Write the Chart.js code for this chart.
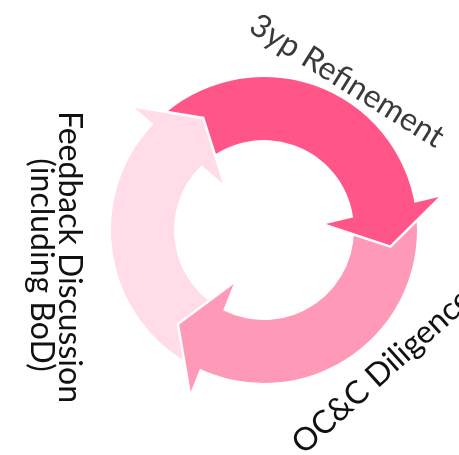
<!DOCTYPE html>
<html>
<head>
<meta charset="utf-8">
<script src="https://cdn.jsdelivr.net/npm/chart.js@4.4.1/dist/chart.umd.min.js"></script>
<style>
  html, body { margin: 0; padding: 0; background: #ffffff; }
  canvas { display: block; }
</style>
</head>
<body>
<canvas id="c" width="459" height="455"></canvas>
<script>
// ---- data ----
const categories = ['3yp Refinement', 'OC&C Diligence', 'Feedback Discussion (including BoD)'];
const labelLines = [['3yp Refinement'], ['OC&C Diligence'], ['Feedback Discussion', '(including BoD)']];
const values = [126, 125, 109];   // arc span of each step (degrees of the cycle)
const colors = ['#FF5589', '#FF99B8', '#FFDCE7'];
const textColors = ['#3a3a3a', '#111111', '#111111'];

// ---- arrowheads drawn from each arc element's own geometry ----
const arrowHeads = {
  id: 'arrowHeads',
  afterDatasetsDraw(chart) {
    const ctx = chart.ctx;
    const meta = chart.getDatasetMeta(0);
    const deg = Math.PI / 180;
    meta.data.forEach((arc, i) => {
      const p = arc.getProps(['x', 'y', 'endAngle', 'innerRadius', 'outerRadius'], true);
      const w = p.outerRadius - p.innerRadius;
      const mid = (p.outerRadius + p.innerRadius) / 2;
      const pt = (a, r) => [p.x + r * Math.cos(a), p.y + r * Math.sin(a)];
      const ow = pt(p.endAngle - 2.7 * deg, p.outerRadius + w * 0.43);
      const iw = pt(p.endAngle + 2.7 * deg, p.innerRadius - w * 0.48);
      const tip = pt(p.endAngle + 15.5 * deg, mid + 6);
      ctx.save();
      ctx.beginPath();
      ctx.moveTo(ow[0], ow[1]);
      ctx.lineTo(tip[0], tip[1]);
      ctx.lineTo(iw[0], iw[1]);
      ctx.closePath();
      ctx.fillStyle = colors[i];
      ctx.fill();
      ctx.beginPath();
      ctx.moveTo(ow[0], ow[1]);
      ctx.lineTo(tip[0], tip[1]);
      ctx.lineTo(iw[0], iw[1]);
      ctx.strokeStyle = '#ffffff';
      ctx.lineWidth = 2.5;
      ctx.lineJoin = 'miter';
      ctx.stroke();
      ctx.restore();
    });
  }
};

// ---- rotated step labels ----
const stepLabels = {
  id: 'stepLabels',
  afterDraw(chart) {
    const ctx = chart.ctx;
    const meta = chart.getDatasetMeta(0);
    const cx = meta.data[0].x, cy = meta.data[0].y;
    const layout = [
      { dx: 83, dy: -149, rot: 32, baseline: 'middle', lh: 0 },
      { dx: 118, dy: 141, rot: -42, baseline: 'middle', lh: 0 },
      { dx: -205, dy: 27, rot: 90, baseline: 'alphabetic', lh: 28.5 }
    ];
    ctx.save();
    ctx.font = '32px Lato, "Open Sans", sans-serif';
    ctx.textAlign = 'center';
    labelLines.forEach((lines, i) => {
      const L = layout[i];
      ctx.save();
      ctx.translate(cx + L.dx, cy + L.dy);
      ctx.rotate(L.rot * Math.PI / 180);
      ctx.textBaseline = L.baseline;
      ctx.fillStyle = textColors[i];
      lines.forEach((t, k) => ctx.fillText(t, (k === 1 ? 8 : 0), k * L.lh));
      ctx.restore();
    });
    ctx.restore();
  }
};

new Chart(document.getElementById('c'), {
  type: 'doughnut',
  data: {
    labels: categories,
    datasets: [{
      data: values,
      backgroundColor: colors,
      borderWidth: 0,
      hoverOffset: 0
    }]
  },
  options: {
    responsive: false,
    animation: false,
    rotation: 316,
    radius: 153,
    cutout: 90,
    layout: { padding: { left: 111, right: 42, top: 77, bottom: 72 } },
    plugins: { legend: { display: false }, tooltip: { enabled: false } },
    events: []
  },
  plugins: [arrowHeads, stepLabels]
});
</script>
</body>
</html>
